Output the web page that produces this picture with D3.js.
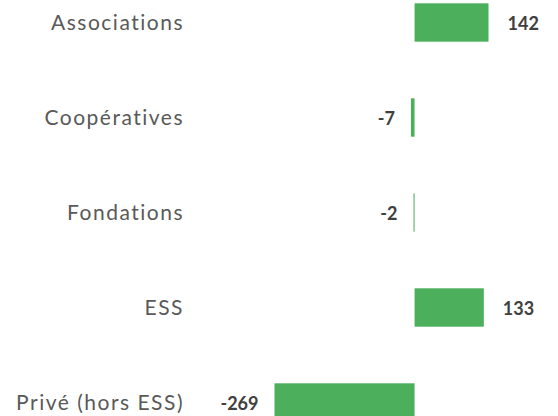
<!DOCTYPE html>
<meta charset="utf-8">
<style>
  body { margin: 0; background: #fff; }
  svg { display: block; }
</style>
<svg width="558" height="416"></svg>
<script src="https://cdn.jsdelivr.net/npm/d3@7"></script>
<script>
// données
var categories = ["Associations", "Coopératives", "Fondations", "ESS", "Privé (hors ESS)"];
var values = [142, -7, -2, 133, -269];

var svg = d3.select("svg"),
    width = +svg.attr("width"),
    height = +svg.attr("height");

var x = d3.scaleLinear()
    .domain([-269, 142])
    .range([274.5, 488.5]);

var y = d3.scaleBand()
    .domain(categories)
    .range([-25, 450])
    .paddingInner(0.596)
    .paddingOuter(0.298);

var data = categories.map(function(c, i) { return { cat: c, val: values[i] }; });

// barres
svg.append("g")
  .selectAll("rect")
  .data(data)
  .join("rect")
    .attr("x", function(d) { return x(Math.min(0, d.val)); })
    .attr("y", function(d) { return y(d.cat); })
    .attr("width", function(d) { return Math.abs(x(d.val) - x(0)); })
    .attr("height", y.bandwidth())
    .attr("fill", "#4caf5b");

// libellés des catégories
svg.append("g")
  .selectAll("text")
  .data(data)
  .join("text")
    .attr("x", 184)
    .attr("y", function(d) { return y(d.cat) + y.bandwidth() / 2; })
    .attr("dy", "0.36em")
    .attr("text-anchor", "end")
    .attr("fill", "#595959")
    .style("font-family", "Lato, sans-serif")
    .style("font-size", "21px")
    .style("letter-spacing", "1.5px")
    .text(function(d) { return d.cat; });

// valeurs
svg.append("g")
  .selectAll("text")
  .data(data)
  .join("text")
    .attr("x", function(d) { return d.val < 0 ? x(d.val) - 16 : x(d.val) + 19; })
    .attr("y", function(d) { return y(d.cat) + y.bandwidth() / 2; })
    .attr("dy", "0.4em")
    .attr("text-anchor", function(d) { return d.val < 0 ? "end" : "start"; })
    .attr("fill", "#404040")
    .style("font-family", "Lato, sans-serif")
    .style("font-size", "18px")
    .style("font-weight", "bold")
    .text(function(d) { return d.val; });
</script>
